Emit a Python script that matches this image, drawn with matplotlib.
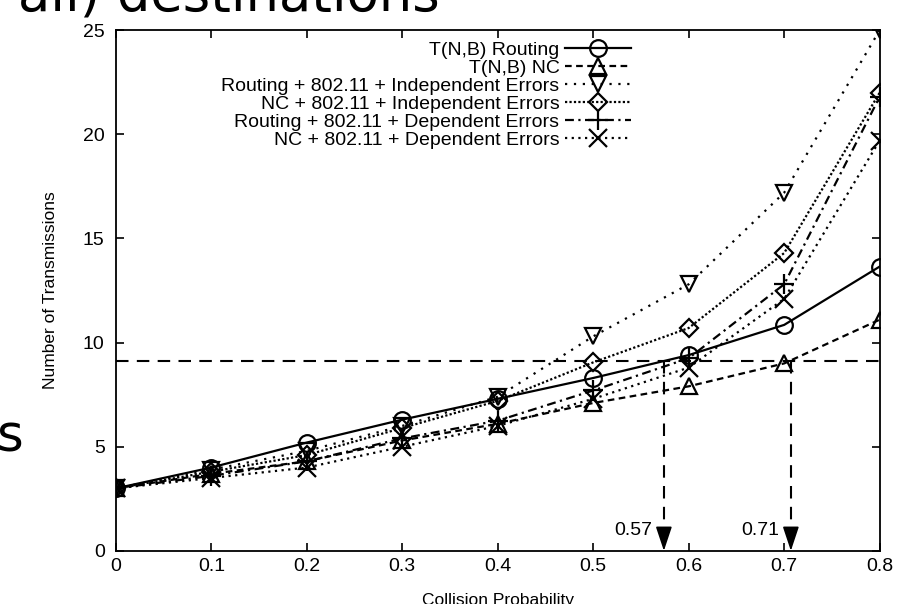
import matplotlib
matplotlib.use("Agg")
import matplotlib.pyplot as plt

plt.rcParams["font.family"] = ["Liberation Sans", "DejaVu Sans"]

# data
prob = [0.0, 0.1, 0.2, 0.3, 0.4, 0.5, 0.6, 0.7, 0.8]
tnb_routing = [3.0, 4.0, 5.2, 6.3, 7.3, 8.3, 9.4, 10.85, 13.65]
tnb_nc = [3.0, 3.7, 4.3, 5.3, 6.1, 7.1, 7.9, 9.0, 11.1]
routing_indep = [3.0, 3.9, 4.8, 6.0, 7.4, 10.3, 12.8, 17.2, 25.0]
nc_indep = [3.0, 3.8, 4.6, 5.9, 7.2, 9.05, 10.7, 14.3, 22.0]
routing_dep = [3.0, 3.6, 4.3, 5.4, 6.25, 7.7, 9.25, 12.8, 21.8]
nc_dep = [3.0, 3.5, 4.0, 5.0, 6.0, 7.3, 8.8, 12.1, 19.7]

labels = ["T(N,B) Routing", "T(N,B) NC",
          "Routing + 802.11 + Independent Errors",
          "NC + 802.11 + Independent Errors",
          "Routing + 802.11 + Dependent Errors",
          "NC + 802.11 + Dependent Errors"]

target = 9.12
cross_x = [0.574, 0.707]
cross_labels = ["0.57", "0.71"]

series = [tnb_routing, tnb_nc, routing_indep, nc_indep, routing_dep, nc_dep]
styles = ["-", (0, (3, 2)), (0, (1, 3)), (0, (1, 1)), (0, (4, 2, 1, 2)), (0, (1, 2))]
markers = ["o", "^", "v", "D", "+", "x"]
msizes = [12, 12, 12, 9, 14, 13]

fig = plt.figure(figsize=(9.05, 6.04), dpi=100)
ax = fig.add_axes([0.128, 0.088, 0.844, 0.862])

for y, ls, m, ms, lab in zip(series, styles, markers, msizes, labels):
    ax.plot(prob, y, color="black", lw=1.6, linestyle=ls, marker=m, ms=ms,
            mfc="none", mec="black", mew=1.6, label=lab)

# target line and crossing arrows
ax.plot([prob[0], prob[-1]], [target, target], color="black", lw=1.5,
        linestyle=(0, (6, 4)))
for cx, cl in zip(cross_x, cross_labels):
    ax.plot([cx, cx], [target, 1.0], color="black", lw=1.5, linestyle=(0, (6, 4)))
    ax.annotate("", xy=(cx, 0), xytext=(cx, 1.1),
                arrowprops=dict(arrowstyle="-|>,head_length=1.5,head_width=0.5",
                                color="black", lw=1.2, shrinkA=0, shrinkB=0))
    ax.text(cx - 0.012, 1.0, cl, ha="right", va="center", fontsize=14)

ax.set_xlim(0, 0.8)
ax.set_ylim(0, 25)
ax.set_xticks(prob)
ax.set_xticklabels(["0", "0.1", "0.2", "0.3", "0.4", "0.5", "0.6", "0.7", "0.8"])
ax.set_yticks([0, 5, 10, 15, 20, 25])
ax.tick_params(direction="in", length=6, width=1.2, top=True, right=True,
               labelsize=14)
ax.tick_params(axis="y", pad=8)
ax.tick_params(axis="x", pad=5)
for s in ax.spines.values():
    s.set_linewidth(1.3)

ax.set_xlabel("Collision Probability", fontsize=12.5, labelpad=13)
ax.set_ylabel("Number of Transmissions", fontsize=12.5, labelpad=18)

ax.legend(loc="upper right", bbox_to_anchor=(0.675, 0.978), frameon=False,
          markerfirst=False, fontsize=14, handlelength=3.4, handletextpad=0.3,
          labelspacing=0.02, borderpad=0, borderaxespad=0)

# bits of the slide around the chart
fig.text(0.02, 0.983, "all) destinations", fontsize=38, family="DejaVu Sans",
         ha="left", va="baseline")
fig.text(-0.004, 0.252, "s", fontsize=37, family="DejaVu Sans",
         ha="left", va="baseline")

fig.savefig("out.png", dpi=100)
